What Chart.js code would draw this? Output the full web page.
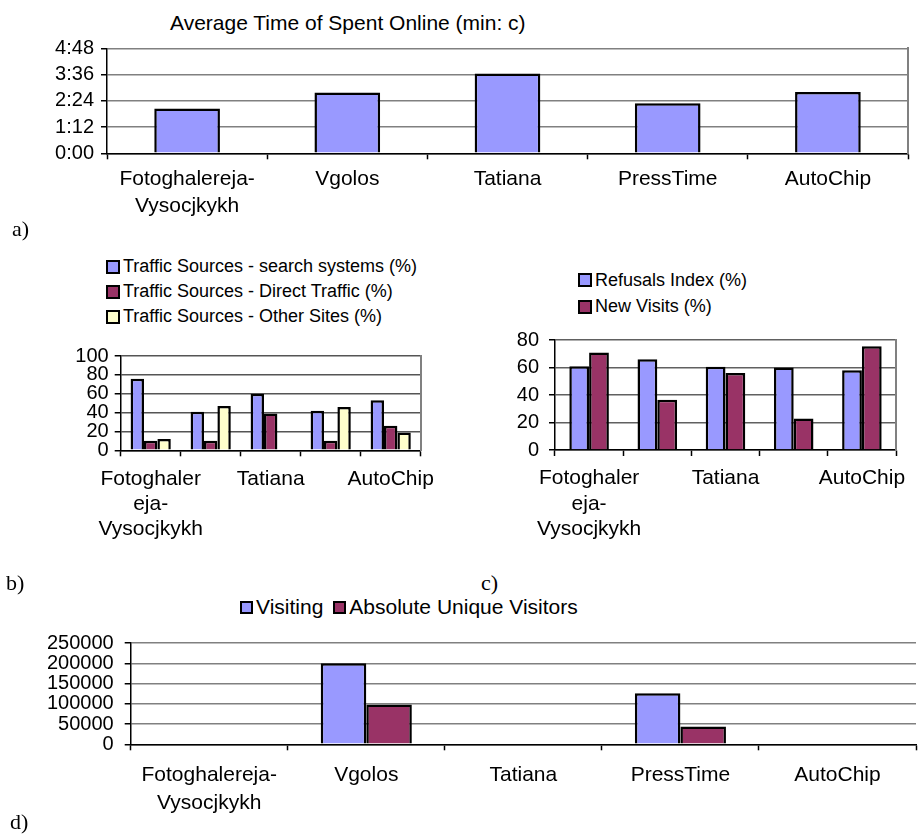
<!DOCTYPE html>
<html>
<head>
<meta charset="utf-8">
<script src="https://cdn.jsdelivr.net/npm/chart.js@4.4.1/dist/chart.umd.min.js"></script>
<style>
body { margin: 0; width: 919px; height: 836px; background: #fff; position: relative; overflow: hidden;
       font-family: "Liberation Sans", Arial, sans-serif; color: #000; }
.box { position: absolute; }
.tag { position: absolute; font-family: "Liberation Serif", "Times New Roman", serif; font-size: 22px; line-height: 22px; }
.title { position: absolute; font-size: 21px; line-height: 26px; white-space: nowrap; }
.legend { position: absolute; white-space: nowrap; }
.legend .item { display: flex; align-items: center; }
.legend .sw { box-sizing: border-box; border: 2px solid #000; margin-right: 3px; }
</style>
</head>
<body>

<div class="title" style="left:170px;top:10px">Average Time of Spent Online (min: c)</div>
<div class="box" style="left:0;top:0"><canvas id="chartA" width="919" height="220"></canvas></div>
<div class="tag" style="left:12px;top:218px">a)</div>

<div class="legend" id="legendB" style="left:106px;top:254px;font-size:18px"></div>
<div class="box" style="left:60px;top:338px"><canvas id="chartB" width="390" height="202"></canvas></div>
<div class="tag" style="left:6px;top:572px">b)</div>

<div class="legend" id="legendC" style="left:578px;top:267px;font-size:18px"></div>
<div class="box" style="left:500px;top:318px"><canvas id="chartC" width="425" height="222"></canvas></div>
<div class="tag" style="left:481px;top:572px">c)</div>

<div class="legend" id="legendD" style="left:240px;top:594px;font-size:21px;display:flex"></div>
<div class="box" style="left:0;top:620px"><canvas id="chartD" width="919" height="200"></canvas></div>
<div class="tag" style="left:10px;top:811px">d)</div>

<script>
// categories
const labelsWide = [["Fotoghalereja-", "Vysocjkykh"], "Vgolos", "Tatiana", "PressTime", "AutoChip"];
const labelsNarrow = [["Fotoghaler", "eja-", "Vysocjkykh"], "Vgolos", "Tatiana", "PressTime", "AutoChip"];

// a) average time spent online, in seconds
const avgTimeSec = [123, 167, 219, 137, 168];
const timeTicks = ["0:00", "1:12", "2:24", "3:36", "4:48"];

// b) traffic sources, %
const srcSearch = [76, 41, 60, 42, 53];
const srcDirect = [10, 10, 39, 10, 26];
const srcOther = [12, 47, null, 46, 19];

// c) refusals / new visits, %
const refusals = [61, 66, 60.5, 60, 58];
const newVisits = [71, 36.5, 56, 23, 75.5];

// d) visits
const visiting = [null, 200000, null, 126000, null];
const uniqueVisitors = [null, 98000, null, 44000, null];
const visitTicks = ["0", "50000", "100000", "150000", "200000", "250000"];

const BLUE = "#9999FF", PLUM = "#993366", CREAM = "#FFFFCC";

Chart.defaults.font.family = '"Liberation Sans", Arial, sans-serif';
Chart.defaults.color = "#000";

function ds(label, data, color, catPct) {
    return { label: label, data: data, backgroundColor: color, borderColor: "#000", borderWidth: 2.5,
             categoryPercentage: catPct, barPercentage: 1 };
}

function barChart(id, labels, datasets, o) {
    const xTicks = { font: { size: 21, lineHeight: o.lh }, padding: o.xPad, maxRotation: 0, minRotation: 0, autoSkip: false };
    if (o.xCb) xTicks.callback = o.xCb;
    const yTicks = { stepSize: o.step, font: { size: 20 }, padding: o.yPad, autoSkip: false };
    if (o.yCb) yTicks.callback = o.yCb;

    return new Chart(document.getElementById(id), {
        type: "bar",
        data: { labels: labels, datasets: datasets },
        options: {
            responsive: false,
            animation: false,
            layout: { padding: { top: o.top, right: o.right, left: 0, bottom: 0 } },
            plugins: { legend: { display: false }, tooltip: { enabled: false } },
            scales: {
                x: {
                    grid: { drawOnChartArea: false, tickLength: 6, tickColor: "#000", tickWidth: 1.5 },
                    border: { color: "#000", width: 1.5 },
                    ticks: xTicks,
                    afterFit: s => { s.height = o.xH; }
                },
                y: {
                    min: 0, max: o.max,
                    ticks: yTicks,
                    grid: { color: o.grid, lineWidth: 1.5, tickLength: 6, tickColor: "#000" },
                    border: { color: "#000", width: 1.5 },
                    afterFit: s => { s.width = o.yW; }
                },
                y2: {
                    position: "right",
                    display: o.rightBorder,
                    grid: { drawOnChartArea: false, drawTicks: false },
                    ticks: { display: false },
                    border: { color: "#808080", width: 2 },
                    afterFit: s => { s.width = 0; }
                }
            }
        }
    });
}

function buildLegend(chart, elId, box, rowH) {
    const el = document.getElementById(elId);
    chart.data.datasets.forEach(d => {
        const item = document.createElement("div");
        item.className = "item";
        item.style.height = rowH + "px";
        item.style.marginRight = "10px";
        const sw = document.createElement("span");
        sw.className = "sw";
        sw.style.width = box + "px";
        sw.style.height = box + "px";
        sw.style.background = d.backgroundColor;
        const tx = document.createElement("span");
        tx.textContent = d.label;
        item.appendChild(sw);
        item.appendChild(tx);
        el.appendChild(item);
    });
}

// b) and c) only have room for every other category name
const everyOther = (v, i) => (i % 2 ? "" : labelsNarrow[i]);

barChart("chartA", labelsWide, [ds("Average Time of Spent Online (min: c)", avgTimeSec, BLUE, 0.41)], {
    top: 48.3, right: 11, xH: 66.7, lh: 1.3, xPad: 6, yW: 107, yPad: 7,
    max: 288, step: 72, yCb: (v, i) => timeTicks[i], grid: "#808080", rightBorder: true
});

const chartB = barChart("chartB", labelsNarrow, [
    ds("Traffic Sources - search systems (%)", srcSearch, BLUE, 0.67),
    ds("Traffic Sources - Direct Traffic (%)", srcDirect, PLUM, 0.67),
    ds("Traffic Sources - Other Sites (%)", srcOther, CREAM, 0.67)
], {
    top: 13.7, right: 29.3, xH: 89.7, lh: 1.2, xPad: 10, yW: 60.7, yPad: 6,
    max: 100, step: 20, xCb: everyOther, grid: "#555", rightBorder: true
});
buildLegend(chartB, "legendB", 14, 25);

const chartC = barChart("chartC", labelsNarrow, [
    ds("Refusals Index (%)", refusals, BLUE, 0.58),
    ds("New Visits (%)", newVisits, PLUM, 0.58)
], {
    top: 14.3, right: 29, xH: 90, lh: 1.2, xPad: 10, yW: 55, yPad: 10,
    max: 80, step: 20, xCb: everyOther, grid: "#606060", rightBorder: true
});
buildLegend(chartC, "legendC", 14, 26.5);

const chartD = barChart("chartD", labelsWide, [
    ds("Visiting", visiting, BLUE, 0.58),
    ds("Absolute Unique Visitors", uniqueVisitors, PLUM, 0.58)
], {
    top: 20, right: 3, xH: 75.7, lh: 1.3, xPad: 11.5, yW: 130.7, yPad: 11,
    max: 250000, step: 50000, yCb: (v, i) => visitTicks[i], grid: "#808080", rightBorder: false
});
buildLegend(chartD, "legendD", 13, 26);
</script>
</body>
</html>
